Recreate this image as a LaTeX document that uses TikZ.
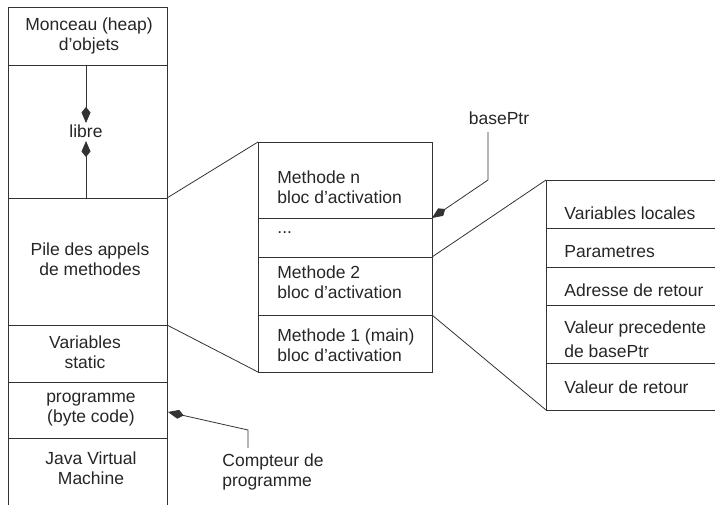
\documentclass[tikz,border=0pt]{standalone}
\usepackage{fontspec}
\setmainfont{Liberation Sans}
\usetikzlibrary{arrows.meta}
\begin{document}
\begin{tikzpicture}[x=1pt,y=-1pt, line width=0.8pt, draw=black!80,
  txt/.style={font=\fontsize{17.5}{20}\selectfont, align=center, inner sep=0pt, text=black!85},
  ltxt/.style={txt, align=left, anchor=west},
  tip/.style={-{Kite[length=16pt,width=9pt,inset=5.5pt]}}]
\useasboundingbox (0,0) rectangle (715,505);
% left column
\draw (8,505) -- (8,7) -- (167,7) -- (167,505);
\foreach \yy in {65,198,325,382,438} \draw (8,\yy) -- (167,\yy);
\node[txt] (heap) at (89,36) {Monceau (heap)\\d'objets};
\node[txt] (libre) at (86,131) {libre};
\node[txt] (pile) at (90,259) {Pile des appels\\de methodes};
\node[txt] (static) at (85,352) {Variables\\static};
\node[txt] (prog) at (91,410) {programme\\(byte code)};
\node[txt] (jvm) at (91,468) {Java Virtual\\Machine};
\coordinate (lt) at (86,65);
\coordinate (lbot) at (86,198);
\coordinate (ltip1) at (86,123);
\coordinate (ltip2) at (86,141);
\draw[tip] (lt) -- (ltip1);
\draw[tip] (lbot) -- (ltip2);
% middle box
\draw (258,142) rectangle (432,372);
\foreach \yy in {218,257,315} \draw (258,\yy) -- (432,\yy);
\node[ltxt] (mn) at (277,187) {Methode n\\bloc d'activation};
\node[ltxt] (dots) at (277,233) {...};
\node[ltxt] (m2) at (277,282) {Methode 2\\bloc d'activation};
\node[ltxt] (m1) at (277,345) {Methode 1 (main)\\bloc d'activation};
% right box
\draw (715,180) -- (546,180) -- (546,410) -- (715,410);
\foreach \yy in {228,267,305,363} \draw (546,\yy) -- (715,\yy);
\node[ltxt] (vl) at (564,213) {Variables locales};
\node[ltxt] (par) at (564,252) {Parametres};
\node[ltxt] (adr) at (564,290) {Adresse de retour};
\node[ltxt, font=\fontsize{17.5}{24}\selectfont] (vp) at (564,339) {Valeur precedente\\de basePtr};
\node[ltxt] (vr) at (564,387) {Valeur de retour};
% connectors between columns
\coordinate (a1) at (167,198); \coordinate (a2) at (258,142);
\coordinate (b1) at (167,325); \coordinate (b2) at (258,372);
\coordinate (c1) at (432,257); \coordinate (c2) at (546,180);
\coordinate (d1) at (432,315); \coordinate (d2) at (546,410);
\draw (a1) -- (a2);
\draw (b1) -- (b2);
\draw (c1) -- (c2);
\draw (d1) -- (d2);
% basePtr
\node[txt] (bp) at (499,118) {basePtr};
\coordinate (bpa) at (488,132);
\coordinate (bpb) at (488,180);
\coordinate (bptip) at (432,218);
\draw[tip] (bpa) -- (bpb) -- (bptip);
% compteur de programme
\node[ltxt] (cp) at (222,472) {Compteur de\\programme};
\coordinate (cpa) at (248,448);
\coordinate (cpb) at (248,430);
\coordinate (cptip) at (168,412);
\draw[tip] (cpa) -- (cpb) -- (cptip);
\end{tikzpicture}
\end{document}
